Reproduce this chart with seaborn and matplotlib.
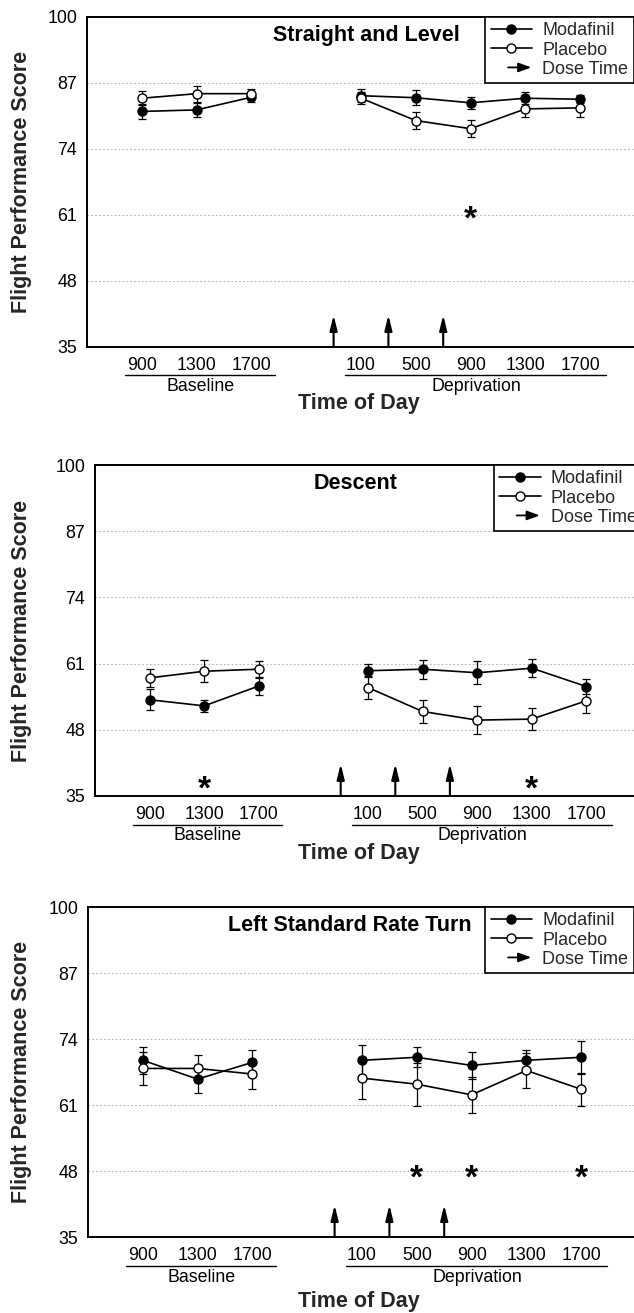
import numpy as np
import pandas as pd
import matplotlib
matplotlib.use("Agg")
import matplotlib.pyplot as plt
import matplotlib.patches as mpatches
import matplotlib.transforms as mtransforms
from matplotlib.lines import Line2D
from matplotlib.legend_handler import HandlerBase
import seaborn as sns

# ---------------- data ----------------
times = ["900", "1300", "1700", "100", "500", "900", "1300", "1700"]
periods = ["Baseline"] * 3 + ["Deprivation"] * 5
tick_labels = ["900", "1300", "1700", "", "100", "500", "900", "1300", "1700"]
yticks = [35, 48, 61, 74, 87, 100]
dose_times = [3.5, 4.5, 5.5]

titles = ["Straight and Level", "Descent", "Left Standard Rate Turn"]

sl_modafinil = [81.4, 81.7, 84.2, 84.5, 84.1, 83.1, 84.0, 83.8]
sl_modafinil_se = [1.4, 1.4, 1.0, 1.3, 1.5, 1.2, 1.2, 0.8]
sl_placebo = [84.0, 84.9, 84.9, 84.0, 79.6, 78.0, 81.9, 82.1]
sl_placebo_se = [1.4, 1.6, 1.0, 1.2, 1.7, 1.7, 1.6, 1.7]
sl_star_idx = [5]
sl_star_y = 61.3

de_modafinil = [53.9, 52.7, 56.6, 59.6, 59.9, 59.2, 60.1, 56.5]
de_modafinil_se = [2.1, 1.2, 1.8, 1.3, 1.9, 2.3, 1.8, 1.4]
de_placebo = [58.2, 59.5, 59.9, 56.3, 51.6, 49.9, 50.1, 53.7]
de_placebo_se = [1.8, 2.2, 1.7, 2.2, 2.2, 2.8, 2.2, 2.4]
de_star_idx = [1, 6]
de_star_y = 37.5

lt_modafinil = [69.8, 66.1, 69.4, 69.8, 70.4, 68.8, 69.8, 70.4]
lt_modafinil_se = [2.6, 2.7, 2.4, 3.0, 2.0, 2.7, 2.1, 3.3]
lt_placebo = [68.2, 68.2, 67.1, 66.3, 65.1, 63.0, 67.8, 64.1]
lt_placebo_se = [3.2, 2.6, 2.9, 4.1, 4.2, 3.6, 3.4, 3.3]
lt_star_idx = [4, 5, 7]
lt_star_y = 47.8

# x positions (gap between baseline and deprivation)
x_pos = [0, 1, 2, 4, 5, 6, 7, 8]
tick_pos = [0, 1, 2, 3, 4, 5, 6, 7, 8]

# ---------------- style ----------------
sns.set_theme(style="white")
plt.rcParams["font.family"] = ["Liberation Sans", "DejaVu Sans"]

W, H = 634, 1313
fig = plt.figure(figsize=(W / 100, H / 100), dpi=100)

# panel boxes in pixels: left, right, top, bottom ; plus offsets below
layout = [
    dict(l=87, r=635, t=17, b=347, tod=56, title_x=4.09),
    dict(l=95, r=641, t=465, b=796, tod=57, title_x=3.78),
    dict(l=88, r=636, t=907, b=1237, tod=65, title_x=3.78),
]

panels = [
    (sl_modafinil, sl_modafinil_se, sl_placebo, sl_placebo_se, sl_star_idx, sl_star_y),
    (de_modafinil, de_modafinil_se, de_placebo, de_placebo_se, de_star_idx, de_star_y),
    (lt_modafinil, lt_modafinil_se, lt_placebo, lt_placebo_se, lt_star_idx, lt_star_y),
]


class ArrowHandle:
    pass


class HandlerArrow(HandlerBase):
    def create_artists(self, legend, orig_handle, xdescent, ydescent,
                       width, height, fontsize, trans):
        y = height / 2 - ydescent
        a = mpatches.FancyArrowPatch(
            (-xdescent + width * 0.42, y), (-xdescent + width * 0.98, y),
            arrowstyle="-|>,head_length=0.55,head_width=0.2",
            mutation_scale=14, lw=1.3, color="black",
            shrinkA=0, shrinkB=0, transform=trans)
        return [a]


for (mod, mod_se, pla, pla_se, star_idx, star_y), lay, title in zip(panels, layout, titles):
    l, r, t, b = lay["l"], lay["r"], lay["t"], lay["b"]
    ax = fig.add_axes([l / W, 1 - b / H, (r - l) / W, (b - t) / H])
    h_px = b - t

    df = pd.DataFrame({
        "pos": x_pos * 2,
        "score": mod + pla,
        "se": mod_se + pla_se,
        "drug": ["Modafinil"] * 8 + ["Placebo"] * 8,
        "period": periods * 2,
    })

    # grid lines
    for yv in yticks[1:-1]:
        ax.axhline(yv, color="#b4b4b4", lw=0.8, ls=(0, (1.5, 2)), zorder=0)

    # error bars
    for drug in ["Modafinil", "Placebo"]:
        d = df[df.drug == drug]
        ax.errorbar(d["pos"], d["score"], yerr=d["se"], fmt="none",
                    ecolor="black", elinewidth=0.9, capsize=3.2,
                    capthick=0.9, zorder=2)

    # lines + markers (broken between periods)
    sns.lineplot(data=df[df.drug == "Modafinil"], x="pos", y="score",
                 units="period", estimator=None, color="black", lw=1.2,
                 marker="o", markersize=6.5, markerfacecolor="black",
                 markeredgecolor="black", markeredgewidth=1.0,
                 ax=ax, legend=False, zorder=3)
    sns.lineplot(data=df[df.drug == "Placebo"], x="pos", y="score",
                 units="period", estimator=None, color="black", lw=1.2,
                 marker="o", markersize=6.5, markerfacecolor="white",
                 markeredgecolor="black", markeredgewidth=1.0,
                 ax=ax, legend=False, zorder=4)

    # dose time arrows
    for xd in dose_times:
        ax.annotate("", xy=(xd, 41.3), xytext=(xd, 35.0),
                    arrowprops=dict(arrowstyle="-|>,head_length=0.65,head_width=0.16",
                                    mutation_scale=14, lw=1.5, color="black",
                                    shrinkA=0, shrinkB=0), zorder=5)

    # significance stars (shifted so the glyph centre sits on the value)
    star_tr = mtransforms.offset_copy(ax.transData, fig=fig, x=0, y=-7, units="dots")
    for i in star_idx:
        ax.text(x_pos[i], star_y, "*", ha="center", va="center",
                fontsize=24, fontweight="bold", color="black",
                transform=star_tr)

    ax.set_xlim(-1, 9)
    ax.set_ylim(35, 100)
    ax.set_xticks(tick_pos)
    ax.set_xticklabels(tick_labels)
    ax.set_yticks(yticks)
    ax.set_xlabel("")
    ax.set_ylabel("")
    ax.tick_params(axis="x", direction="in", length=5, width=1.0,
                   color="black", pad=7.5, labelsize=12.8, labelcolor="black")
    ax.tick_params(axis="y", length=0, pad=7, labelsize=12.8, labelcolor="black")
    for s in ["left", "bottom", "top"]:
        ax.spines[s].set_visible(True)
        ax.spines[s].set_color("black")
        ax.spines[s].set_linewidth(1.4)
    ax.spines["right"].set_visible(False)
    ax.grid(False)
    ax.set_facecolor("white")

    # title inside
    ax.text(lay["title_x"], 96.3, title, ha="center", va="center",
            fontsize=15.5, fontweight="bold", color="black")

    # group labels under axis
    trans = mtransforms.blended_transform_factory(ax.transData, ax.transAxes)
    for (x0, x1, xc, name) in [(-0.3, 2.43, 1.07, "Baseline"),
                               (3.7, 8.47, 6.1, "Deprivation")]:
        yl = -28.5 / h_px
        ax.plot([x0, x1], [yl, yl], color="black", lw=1.0,
                transform=trans, clip_on=False)
        ax.text(xc, -40 / h_px, name, ha="center", va="center",
                fontsize=12.8, transform=trans, color="black")

    # Time of Day
    fig.text(359 / W, 1 - (b + lay["tod"]) / H, "Time of Day",
             ha="center", va="center", fontsize=15.5, fontweight="bold")
    # y label
    fig.text(22 / W, 1 - ((t + b) / 2) / H, "Flight Performance Score",
             ha="center", va="center", rotation=90, fontsize=15.5,
             fontweight="bold")

    # legend
    handles = [
        Line2D([], [], color="black", lw=1.2, marker="o", markersize=6.5,
               markerfacecolor="black", markeredgecolor="black"),
        Line2D([], [], color="black", lw=1.2, marker="o", markersize=6.5,
               markerfacecolor="white", markeredgecolor="black"),
        ArrowHandle(),
    ]
    right_px = 633.5 if lay["r"] < 640 else 642
    leg = ax.legend(handles, ["Modafinil", "Placebo", "Dose Time"],
                    handler_map={ArrowHandle: HandlerArrow()},
                    loc="upper right",
                    bbox_to_anchor=((right_px - l) / (r - l), 1.0),
                    fontsize=13, frameon=True, fancybox=False,
                    edgecolor="black", framealpha=1, borderpad=0.3,
                    borderaxespad=0, handlelength=2.3, handletextpad=0.55,
                    labelspacing=0.12)
    leg.get_frame().set_linewidth(1.2)

fig.savefig("out.png", dpi=100, facecolor="white")
